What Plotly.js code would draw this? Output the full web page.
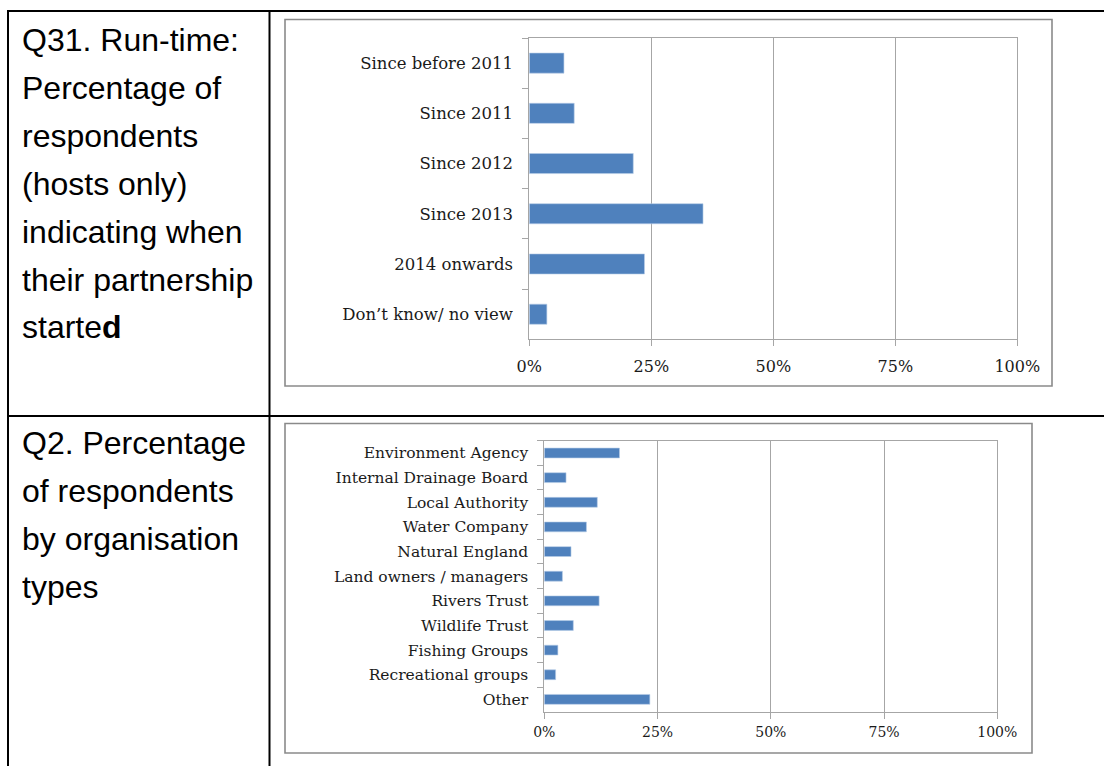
<!DOCTYPE html>
<html><head><meta charset="utf-8">
<script src="https://cdn.plot.ly/plotly-3.0.1.min.js"></script>
<style>html,body{margin:0;padding:0;background:#fff;}</style>
</head><body><div id="chart" style="width:1104px;height:766px;"></div>
<script>
const startCategories = ["Since before 2011","Since 2011","Since 2012","Since 2013","2014 onwards","Don’t know/ no view"];
const startValues = [7.1, 9.2, 21.3, 35.6, 23.6, 3.6];
const orgCategories = ["Environment Agency","Internal Drainage Board","Local Authority","Water Company","Natural England","Land owners / managers","Rivers Trust","Wildlife Trust","Fishing Groups","Recreational groups","Other"];
const orgValues = [16.6, 4.8, 11.7, 9.3, 5.9, 4.0, 12.1, 6.4, 3.0, 2.5, 23.3];
const xTickValues = [0, 25, 50, 75, 100];
const xTickLabels = ["0%", "25%", "50%", "75%", "100%"];
const row1Lines = ["Q31. Run-time:","Percentage of","respondents","(hosts only)","indicating when","their partnership","starte<b>d</b>"];
const row2Lines = ["Q2. Percentage","of respondents","by organisation","types"];

const W = 1104, H = 766;
const px = x => x / W;
const py = y => 1 - y / H;

const barColor = '#4f81bd';
const axisGray = '#a6a6a6';
const serif = 'DejaVu Serif, Liberation Serif, serif';

const traces = [
  {type:'bar', orientation:'h', x:startValues, y:startCategories, xaxis:'x', yaxis:'y',
   marker:{color:barColor, line:{color:'#b7cde8', width:0.6}}, hoverinfo:'x+y'},
  {type:'bar', orientation:'h', x:orgValues, y:orgCategories, xaxis:'x2', yaxis:'y2',
   marker:{color:barColor, line:{color:'#b7cde8', width:0.6}}, hoverinfo:'x+y'}
];

function xAxis(domain, anchor, size, standoff) {
  return {domain:domain, anchor:anchor, range:[0,100], tickmode:'array', tickvals:xTickValues, ticktext:xTickLabels,
    ticks:'outside', ticklen:6, tickcolor:axisGray, showgrid:true, gridcolor:axisGray, gridwidth:1,
    showline:true, linecolor:axisGray, linewidth:1, mirror:true, zeroline:false,
    tickfont:{family:serif, size:size, color:'#1a1a1a'}, ticklabelstandoff:standoff, fixedrange:true};
}
function yAxis(domain, anchor, size, standoff) {
  return {domain:domain, anchor:anchor, type:'category', autorange:'reversed', tickson:'boundaries',
    ticks:'outside', ticklen:6, tickcolor:axisGray, showgrid:false, showline:true, linecolor:axisGray,
    linewidth:1, mirror:true, zeroline:false,
    tickfont:{family:serif, size:size, color:'#1a1a1a'}, ticklabelstandoff:standoff, fixedrange:true};
}

const shapes = [];
function hline(x0, x1, y, color, w) {
  shapes.push({type:'line', xref:'paper', yref:'paper', x0:px(x0), x1:px(x1), y0:py(y), y1:py(y), line:{color:color, width:w}});
}
function vline(x, y0, y1, color, w) {
  shapes.push({type:'line', xref:'paper', yref:'paper', x0:px(x), x1:px(x), y0:py(y0), y1:py(y1), line:{color:color, width:w}});
}
function rect(x0, y0, x1, y1, color, w) {
  shapes.push({type:'rect', xref:'paper', yref:'paper', x0:px(x0), x1:px(x1), y0:py(y0), y1:py(y1), line:{color:color, width:w}, fillcolor:'rgba(0,0,0,0)', layer:'below'});
}
// table grid
hline(7, 1104, 11, '#000', 2);
hline(7, 1104, 416, '#000', 2);
vline(8, 10, 766, '#000', 2);
vline(269.5, 10, 766, '#000', 2);
// chart frames
rect(285, 19.5, 1052, 386, '#8a8a8a', 1.6);
rect(285, 423.5, 1032, 753, '#8a8a8a', 1.6);

const annotations = [];
const textFont = {family:'Liberation Sans, Arial, sans-serif', size:32, color:'#000'};
row1Lines.forEach((t, i) => {
  annotations.push({xref:'paper', yref:'paper', x:px(21), y:py(40.5 + i*47.8), xanchor:'left', yanchor:'middle',
    text:t, showarrow:false, font:textFont, borderpad:0});
});
row2Lines.forEach((t, i) => {
  annotations.push({xref:'paper', yref:'paper', x:px(21), y:py(443 + i*48), xanchor:'left', yanchor:'middle',
    text:t, showarrow:false, font:textFont, borderpad:0});
});

const layout = {
  width:W, height:H, margin:{l:0, r:0, t:0, b:0}, paper_bgcolor:'#fff', plot_bgcolor:'#fff',
  showlegend:false, bargap:0.6,
  xaxis: xAxis([px(529.3), px(1017.3)], 'y', 16, 6),
  yaxis: yAxis([py(339.3), py(38)], 'x', 16.5, 12),
  xaxis2: xAxis([px(544.3), px(997.3)], 'y2', 14, 1),
  yaxis2: yAxis([py(711.7), py(440.7)], 'x2', 15.5, 12),
  shapes: shapes,
  annotations: annotations
};

Plotly.newPlot('chart', traces, layout, {displayModeBar:false, staticPlot:true});
</script>
</body></html>
